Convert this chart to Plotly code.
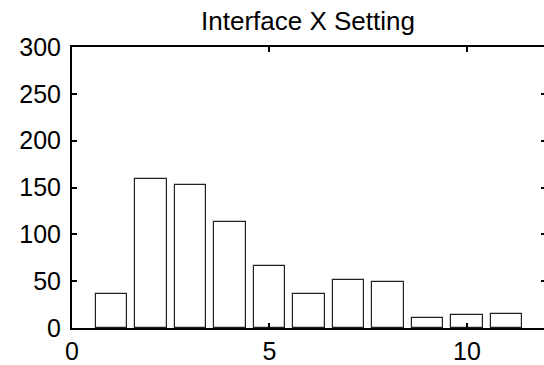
import plotly.graph_objects as go

# Histogram of interface X setting counts
categories = [1, 2, 3, 4, 5, 6, 7, 8, 9, 10, 11]
counts = [36, 159, 153, 113, 66, 36, 51, 49, 11, 14, 15]
x_ticks = [0, 5, 10]
y_ticks = [0, 50, 100, 150, 200, 250, 300]

FONT = "Liberation Sans, Arial, Helvetica, sans-serif"

fig = go.Figure()
fig.add_trace(go.Bar(
    x=categories,
    y=counts,
    width=0.8,
    marker=dict(color="white", line=dict(color="#222222", width=1.2)),
    showlegend=False,
))
# invisible companion trace so the right-hand tick marks get drawn
fig.add_trace(go.Scatter(x=[None], y=[None], yaxis="y2", showlegend=False,
                         hoverinfo="skip"))

fig.update_layout(
    width=544,
    height=365,
    margin=dict(l=72, r=0, t=47, b=33, pad=0),
    plot_bgcolor="white",
    paper_bgcolor="white",
    font=dict(family=FONT, size=24, color="black"),
    title=dict(text="Interface X Setting", x=0.5, xref="paper", xanchor="center",
               y=1 - 21 / 365, yref="container", yanchor="middle",
               font=dict(family=FONT, size=26, color="black")),
    bargap=0,
    xaxis=dict(
        range=[0, 11.95],
        tickvals=x_ticks,
        ticks="inside", ticklen=5, tickwidth=1.5, tickcolor="black",
        showline=True, linecolor="black", linewidth=1.5, mirror="ticks",
        showgrid=False, zeroline=False,
        tickfont=dict(family=FONT, size=25),
    ),
    yaxis=dict(
        range=[0, 300],
        tickvals=y_ticks,
        ticks="inside", ticklen=5, tickwidth=1.5, tickcolor="black",
        showline=True, linecolor="black", linewidth=2,
        showgrid=False, zeroline=False,
        ticklabelstandoff=4,
        tickfont=dict(family=FONT, size=25),
    ),
    yaxis2=dict(
        range=[0, 300],
        tickvals=y_ticks,
        overlaying="y", side="right",
        ticks="inside", ticklen=3, tickwidth=1.5, tickcolor="black",
        showticklabels=False, showline=False,
        showgrid=False, zeroline=False,
    ),
)

fig.write_html("out.html")
